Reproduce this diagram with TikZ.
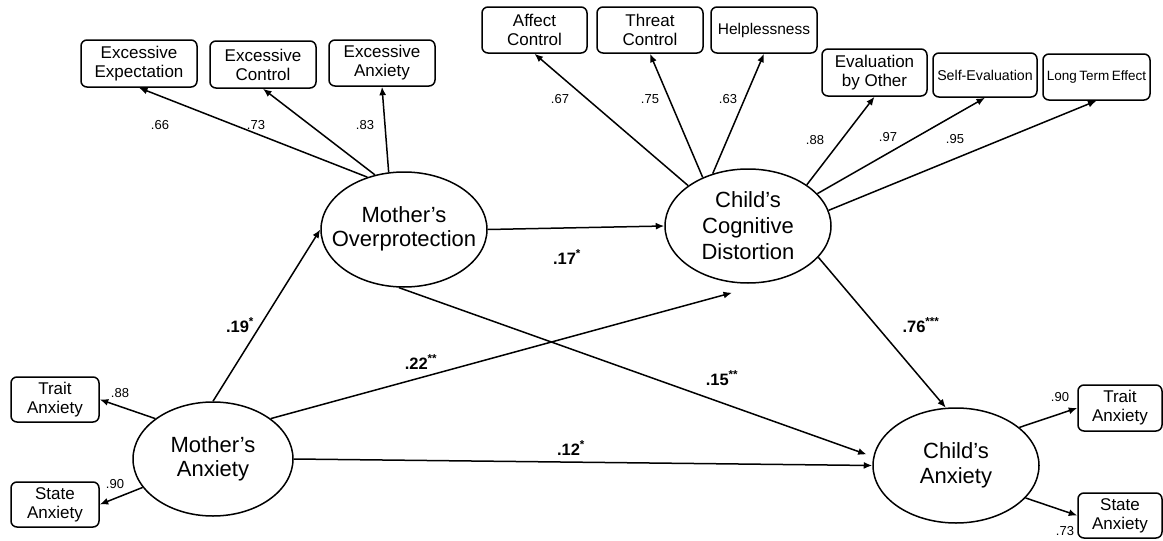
\documentclass[tikz,border=0pt]{standalone}
\usepackage{fontspec}
\setmainfont{Liberation Sans}
\usetikzlibrary{arrows.meta,shapes.geometric,calc}
\begin{document}
\begin{tikzpicture}[x=1pt,y=-1pt,
 lat/.style={draw,ellipse,line width=1.5pt,inner xsep=-20pt,inner ysep=0pt,align=center,font=\fontsize{22}{24.5}\selectfont},
 ind/.style={draw,rounded corners=6pt,line width=1.5pt,inner sep=0pt,align=center,font=\fontsize{17}{19}\selectfont},
 arr/.style={line width=1.5pt,-{Latex[length=8.5pt,width=7pt]}},
 ld/.style={font=\fontsize{13}{15}\selectfont,inner sep=0pt},
 coef/.style={font=\bfseries\fontsize{16.5}{18}\selectfont,inner sep=0pt}]
\useasboundingbox (0,0) rectangle (1163,541);
\fill[white] (0,0) rectangle (1163,541);

% latent variables
\node[lat,minimum width=166pt,minimum height=115pt] (mo) at (404,229.5) {\raisebox{4pt}{\begin{tabular}{@{}c@{}}Mother’s\\Overprotection\end{tabular}}};
\node[lat,minimum width=166pt,minimum height=114pt,font=\fontsize{22}{26}\selectfont] (cc) at (748,226) {Child’s\\Cognitive\\Distortion};
\node[lat,minimum width=160pt,minimum height=114pt] (ma) at (213,459) {Mother’s\\Anxiety};
\node[lat,minimum width=166pt,minimum height=115pt] (ca) at (956,465.5) {Child’s\\Anxiety};

% indicators
\node[ind,minimum width=116pt,minimum height=47pt] (ee) at (139,63.5) {Excessive\\Expectation};
\node[ind,minimum width=106pt,minimum height=47pt] (ec) at (263,64.5) {Excessive\\Control};
\node[ind,minimum width=106pt,minimum height=46pt] (ea) at (382,63) {Excessive\\Anxiety};
\node[ind,minimum width=105pt,minimum height=46pt] (ac) at (534.5,30) {Affect\\Control};
\node[ind,minimum width=106pt,minimum height=46pt] (tc) at (650,30) {Threat\\Control};
\node[ind,minimum width=106pt,minimum height=46pt,font=\fontsize{15.5}{18}\selectfont] (hl) at (764,30) {Helplessness};
\node[ind,minimum width=105pt,minimum height=47pt] (ev) at (874.5,72.5) {Evaluation\\by Other};
\node[ind,minimum width=104pt,minimum height=44pt,font=\fontsize{14.2}{16}\selectfont] (se) at (985,75) {Self-Evaluation};
\node[ind,minimum width=107pt,minimum height=46pt,font=\fontsize{13.5}{16}\selectfont] (lt) at (1096.5,77) {Long\kern2.5pt Term\kern2.5pt Effect};
\node[ind,minimum width=88pt,minimum height=45pt] (mta) at (55,399.5) {Trait\\Anxiety};
\node[ind,minimum width=88pt,minimum height=45pt] (msa) at (55,504.5) {State\\Anxiety};
\node[ind,minimum width=84pt,minimum height=46pt] (cta) at (1120,408) {Trait\\Anxiety};
\node[ind,minimum width=84pt,minimum height=45pt] (csa) at (1120,515.5) {State\\Anxiety};

% measurement paths
\draw[arr] (mo.125) -- (ee.south);
\draw[arr] (mo.118) -- (ec.south);
\draw[arr] (mo.105) -- (ea.south);
\draw[arr] (cc.146) -- (ac.south);
\draw[arr] (cc.133) -- (tc.south);
\draw[arr] (cc.124) -- (hl.south);
\draw[arr] (cc.35) -- (ev.south);
\draw[arr] (cc.25) -- (se.south);
\draw[arr] (cc.11) -- (lt.south);
\draw[arr] (ma.145) -- (mta.east);
\draw[arr] (ma.202) -- (msa.east);
\draw[arr] (ca.31) -- (cta.west);
\draw[arr] (ca.335) -- (csa.west);

% structural paths
\coordinate (cctip) at ($(cc.south)+(-16,9)$);
\draw[arr] (mo.east) -- (cc.west);
\draw[arr] (ma.north) -- (mo.west);
\draw[arr] (ma.35) -- (cctip);
\draw[arr] (ma.east) -- (ca.west);
\draw[arr,shorten >=7pt] (mo.265) -- (ca.174);
\draw[arr] (cc.336) -- (ca.100);

% loadings
\node[ld] (l66) at (160,125) {.66};
\node[ld] (l73) at (256,125) {.73};
\node[ld] (l83) at (365,125) {.83};
\node[ld] (l67) at (560,99) {.67};
\node[ld] (l75) at (650,99) {.75};
\node[ld] (l63) at (728,99) {.63};
\node[ld] (l88b) at (815,140) {.88};
\node[ld] (l97) at (888,137) {.97};
\node[ld] (l95) at (955,139) {.95};
\node[ld] (l88) at (120,393) {.88};
\node[ld] (l90) at (115,484) {.90};
\node[ld] (l90c) at (1060,397) {.90};
\node[ld] (l73c) at (1065,531) {.73};

% structural coefficients
\node[coef] (c17) at (567,257) {.17\textsuperscript{*}};
\node[coef] (c19) at (240,325) {.19\textsuperscript{*}};
\node[coef] (c22) at (421,362) {.22\textsuperscript{**}};
\node[coef] (c15) at (722,378) {.15\textsuperscript{**}};
\node[coef] (c12) at (571,448) {.12\textsuperscript{*}};
\node[coef] (c76) at (921,325) {.76\textsuperscript{***}};
\end{tikzpicture}
\end{document}
